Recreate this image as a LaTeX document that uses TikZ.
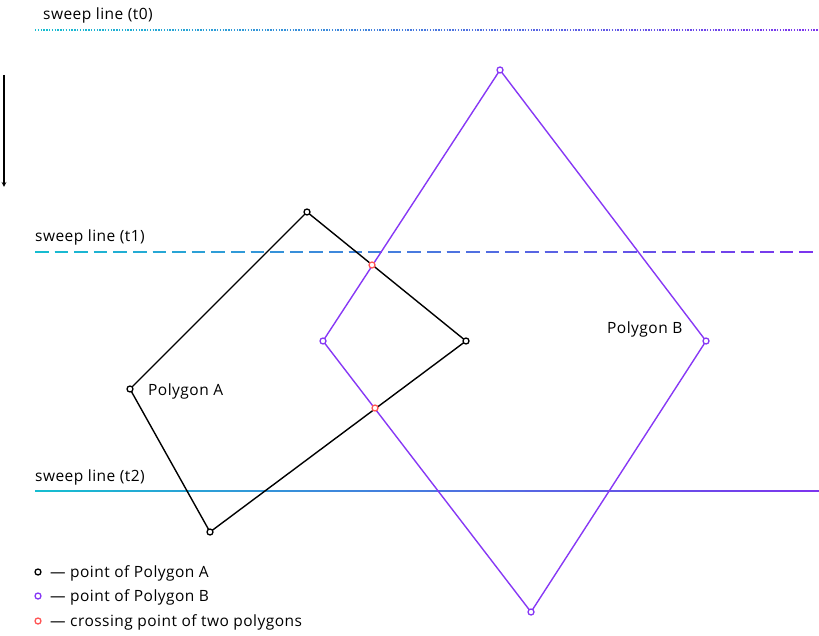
\documentclass[tikz,border=0pt]{standalone}
\usepackage{fontspec}
\setmainfont{Open Sans}[LetterSpace=3]
\definecolor{cy}{HTML}{16BCD0}
\definecolor{pu}{HTML}{7C35EE}
\definecolor{pb}{HTML}{8738F5}
\definecolor{rd}{HTML}{FF5555}
\begin{document}
\begin{tikzpicture}[x=1pt,y=-1pt,
  lbl/.style={anchor=base west,inner sep=0pt,font=\fontsize{15.5}{17}\selectfont},
  pta/.style={circle,draw=black,fill=white,line width=1.3pt,minimum size=6pt,inner sep=0pt},
  ptb/.style={pta,draw=pb},
  ptc/.style={pta,draw=rd},
  polyA/.style={draw=black,line width=1.4pt},
  polyB/.style={draw=pb,line width=1.4pt}]
\useasboundingbox (0,0) rectangle (819,636);
% sweep lines
\foreach \i in {0,...,39}{
  \pgfmathsetmacro\p{100-\i*100/39}
  \pgfmathsetmacro\xa{35+\i*19.6}
  \pgfmathsetmacro\xb{35+(\i+1)*19.6}
  \draw[cy!\p!pu,line width=1.1pt,dash pattern=on 1.4pt off 1.4pt] (\xa,30) -- (\xb,30);
  \draw[cy!\p!pu,line width=1.6pt,dash pattern=on 13.6pt off 6pt] (\xa,252) -- (\xb,252);
  \draw[cy!\p!pu,line width=1.6pt] (\xa,491) -- (\xb+0.3,491);
}
\node[lbl] (l0) at (43,20) {sweep line (t0)};
\node[lbl] (l1) at (35,242) {sweep line (t1)};
\node[lbl] (l2) at (35,481) {sweep line (t2)};
\coordinate (as) at (4,75); \coordinate (ae) at (4,187);
\draw[-stealth,line width=1.2pt] (as) -- (ae);
% polygons
\coordinate (a1) at (307,212); \coordinate (a2) at (466,341);
\coordinate (a3) at (210,532); \coordinate (a4) at (130,389);
\coordinate (b1) at (500,70); \coordinate (b2) at (706,341);
\coordinate (b3) at (531,612); \coordinate (b4) at (323,341);
\draw[polyB] (b1) -- (b2) -- (b3) -- (b4) -- cycle;
\draw[polyA] (a1) -- (a2) -- (a3) -- (a4) -- cycle;
\foreach \n in {a1,a2,a3,a4} \node[pta] at (\n) {};
\foreach \n in {b1,b2,b3,b4} \node[ptb] at (\n) {};
\node[ptc] (c1) at (372,265) {};
\node[ptc] (c2) at (375,408) {};
\node[lbl] (pa) at (148,395) {Polygon A};
\node[lbl] (pb) at (607,333) {Polygon B};
% legend
\node[pta] (ka) at (38,572) {};
\node[ptb] (kb) at (38,596) {};
\node[ptc] (kc) at (38,621) {};
\node[lbl] at (50,577) {— point of Polygon A};
\node[lbl] at (50,601) {— point of Polygon B};
\node[lbl] at (50,626) {— crossing point of two polygons};
\end{tikzpicture}
\end{document}
